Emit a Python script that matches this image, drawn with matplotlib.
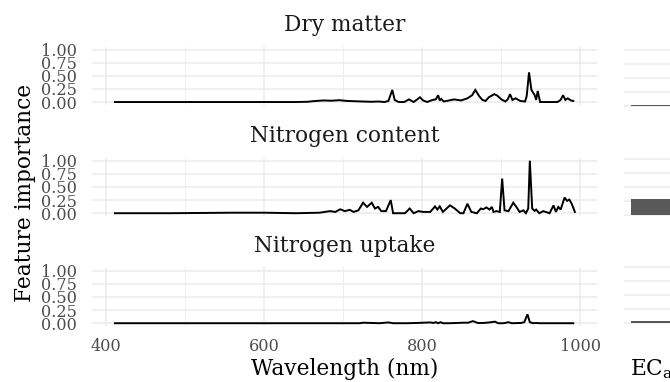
import matplotlib
matplotlib.use("Agg")
import matplotlib.pyplot as plt
from matplotlib.ticker import MultipleLocator

plt.rcParams['font.family'] = ['DejaVu Serif']
plt.rcParams['mathtext.fontset'] = 'dejavuserif'

# ---------------- data ----------------
titles = ["Dry matter", "Nitrogen content", "Nitrogen uptake"]

wl_dm = [411, 450, 500, 550, 600, 640, 655, 665, 675, 685, 695, 705, 715, 725, 735,
         745, 752, 757, 762, 765, 770, 777, 783, 789, 797, 801, 806, 813, 817, 820,
         822, 824, 827, 834, 840, 849, 857, 863, 867, 872, 876, 880, 884, 891, 895,
         900, 905, 908, 911, 914, 918, 924, 930, 932, 935, 938, 942, 944, 946, 949,
         954, 962, 971, 975, 978, 981, 984, 988, 991]
imp_dm = [0.0, 0.0, 0.0, 0.0, 0.0, 0.0, 0.005, 0.02, 0.03, 0.025, 0.035, 0.02, 0.015, 0.01, 0.005,
          0.01, 0.0, 0.02, 0.23, 0.04, 0.0, 0.0, 0.05, 0.0, 0.09, 0.03, 0.0, 0.04, 0.05, 0.13,
          0.03, 0.06, 0.01, 0.03, 0.05, 0.03, 0.07, 0.13, 0.23, 0.11, 0.04, 0.02, 0.09, 0.15, 0.12,
          0.05, 0.01, 0.05, 0.15, 0.04, 0.07, 0.02, 0.01, 0.11, 0.565, 0.23, 0.135, 0.04, 0.21, 0.0,
          0.0, 0.0, 0.0, 0.04, 0.13, 0.04, 0.07, 0.03, 0.02]

wl_nc = [411, 480, 520, 560, 600, 640, 670, 683, 690, 696, 702, 708, 713, 719, 725,
         730, 736, 740, 744, 748, 754, 760, 763, 767, 778, 784, 789, 795, 801, 810,
         816, 819, 822, 826, 835, 841, 848, 852, 857, 862, 869, 874, 877, 881, 885,
         888, 890, 894, 898, 901, 904, 909, 915, 919, 923, 928, 931, 934, 936, 939,
         942, 944, 948, 953, 961, 966, 969, 972, 975, 980, 983, 986, 989, 993]
imp_nc = [0.0, 0.0, 0.005, 0.01, 0.01, 0.0, 0.01, 0.04, 0.025, 0.075, 0.04, 0.065, 0.025, 0.055, 0.2,
          0.12, 0.2, 0.09, 0.12, 0.04, 0.04, 0.25, 0.0, 0.0, 0.0, 0.09, 0.0, 0.04, 0.025, 0.025,
          0.13, 0.07, 0.13, 0.025, 0.15, 0.09, 0.0, 0.0, 0.18, 0.025, 0.0, 0.09, 0.075, 0.11, 0.07,
          0.12, 0.025, 0.04, 0.025, 0.66, 0.055, 0.04, 0.2, 0.12, 0.025, 0.055, 0.0, 0.09, 1.0, 0.09,
          0.045, 0.07, 0.0, 0.04, 0.0, 0.15, 0.025, 0.12, 0.07, 0.3, 0.235, 0.26, 0.18, 0.025]

wl_nu = [411, 683, 721, 725, 735, 746, 757, 763, 780, 793, 810, 814, 817, 820, 823,
         826, 835, 852, 858, 864, 870, 877, 885, 892, 896, 903, 909, 913, 925, 929,
         933, 936, 940, 944, 948, 978, 991]
imp_nu = [0.0, 0.0, 0.0, 0.01, 0.005, 0.0, 0.015, 0.0, 0.0, 0.005, 0.015, 0.005, 0.02, 0.0, 0.02,
          0.0, 0.0, 0.01, 0.01, 0.04, 0.005, 0.005, 0.015, 0.03, 0.0, 0.0, 0.02, 0.0, 0.005, 0.02,
          0.17, 0.02, 0.0, 0.005, 0.0, 0.0, 0.0]

eca_label = ["ECa"]
eca_imp = [0.022, 0.286, 0.04]

x_ticks = [400, 600, 800, 1000]
y_ticks = [0.00, 0.25, 0.50, 0.75, 1.00]
y_ticklabels = ["0.00", "0.25", "0.50", "0.75", "1.00"]

series = [(wl_dm, imp_dm), (wl_nc, imp_nc), (wl_nu, imp_nu)]

# ---------------- layout ----------------
W, H = 670, 382
fig = plt.figure(figsize=(W / 100, H / 100), dpi=100)

grid_col = "#EBEBEB"
tick_col = "#4D4D4D"
fs_tick = 11.6
fs_title = 15.6

left_px, right_px = 92, 597
panel_h = 57.75
tops = [46.9, 158.1, 268.1]

right_tops = [47.2, 156.2, 264.2]
right_h = 61.6

for i, ((wl, imp), title) in enumerate(zip(series, titles)):
    top = tops[i]
    ax = fig.add_axes([left_px / W, (H - top - panel_h) / H,
                       (right_px - left_px) / W, panel_h / H])
    ax.plot(wl, imp, color="black", lw=1.4, solid_joinstyle="miter")
    ax.set_xlim(382, 1021)
    ax.set_ylim(-0.05, 1.05)
    ax.set_xticks(x_ticks)
    ax.xaxis.set_minor_locator(MultipleLocator(100))
    ax.set_yticks(y_ticks)
    ax.set_yticklabels(y_ticklabels)
    ax.grid(which="major", color=grid_col, lw=1.1)
    ax.grid(which="minor", axis="x", color=grid_col, lw=0.6)
    ax.set_axisbelow(True)
    for s in ax.spines.values():
        s.set_visible(False)
    ax.tick_params(which="both", length=0)
    ax.tick_params(axis="y", labelsize=fs_tick, labelcolor=tick_col, pad=11)
    ax.tick_params(axis="x", labelsize=fs_tick, labelcolor=tick_col, pad=9)
    if i < 2:
        ax.tick_params(axis="x", labelbottom=False)
    ax.text(0.5, 1 + 16.4 / panel_h, title, transform=ax.transAxes,
            ha="center", va="baseline", fontsize=fs_title, color="#1A1A1A")

    # right column: ECa bar panels (cut by the figure edge)
    rt = right_tops[i]
    axr = fig.add_axes([624 / W, (H - rt - right_h) / H, 56 / W, right_h / H])
    axr.bar(eca_label, [eca_imp[i]], width=0.9, color="#595959")
    axr.set_xlim(-0.6, 0.6)
    axr.set_ylim(-0.05, 1.05)
    axr.set_yticks(y_ticks)
    axr.grid(axis="y", color=grid_col, lw=1.1)
    axr.set_axisbelow(True)
    for s in axr.spines.values():
        s.set_visible(False)
    axr.tick_params(length=0, labelleft=False, labelbottom=False)

fig.text((left_px + right_px) / 2 / W, 1 - 375 / H, "Wavelength (nm)",
         ha="center", va="baseline", fontsize=fs_title)
fig.text(630 / W, 1 - 375 / H, r"EC$_{\mathrm{a}}$",
         ha="left", va="baseline", fontsize=fs_title)
fig.text(31.5 / W, 1 - 193 / H, "Feature importance", rotation=90,
         rotation_mode="anchor", ha="center", va="baseline", fontsize=fs_title)

fig.savefig("out.png", dpi=100)
